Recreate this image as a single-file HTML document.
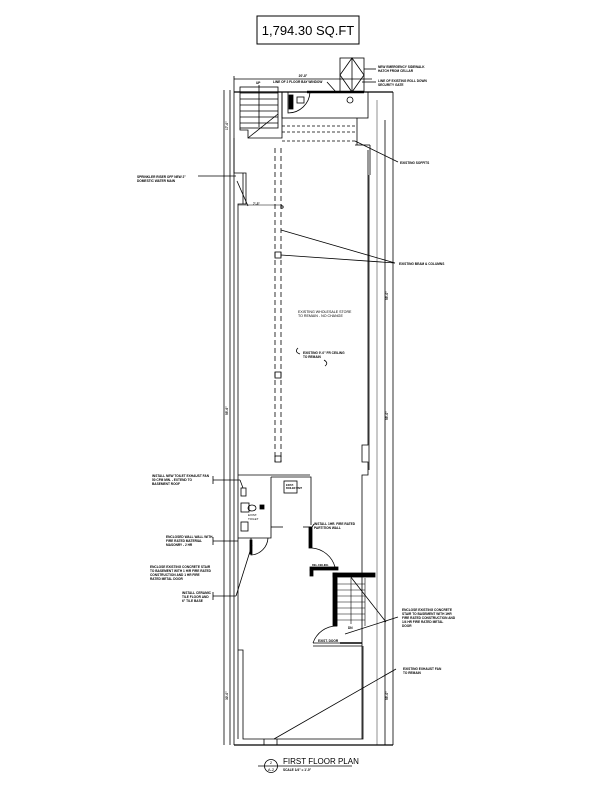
<!DOCTYPE html>
<html><head><meta charset="utf-8"><style>
html,body{margin:0;padding:0;background:#fff}
svg{display:block}
text{font-family:"Liberation Sans",sans-serif;fill:#000}
.s{font-size:3.2px;font-weight:bold}
</style></head><body>
<svg width="612" height="792" viewBox="0 0 612 792" xmlns="http://www.w3.org/2000/svg" fill="none" stroke="#000" stroke-width="0.8">
<!-- title -->
<rect x="257" y="16" width="102" height="28" stroke-width="1"/>
<text x="308" y="35" font-size="13" text-anchor="middle" stroke="none">1,794.30 SQ.FT</text>

<!-- top dimension -->
<line x1="234" y1="79" x2="372" y2="79"/>
<line x1="234" y1="76" x2="234" y2="92"/>
<text x="303" y="77" class="s" stroke="none" text-anchor="middle">20'-8"</text>
<!-- hatch box -->
<rect x="340" y="58" width="24" height="34"/>
<path d="M352 58 L364 75 L352 92 L340 75 Z"/>
<line x1="352" y1="58" x2="352" y2="92"/>
<line x1="364" y1="69" x2="376" y2="69"/>
<line x1="362" y1="82" x2="376" y2="82"/>
<text x="378" y="68" class="s" stroke="none">NEW EMERGENCY SIDEWALK</text>
<text x="378" y="72" class="s" stroke="none">HATCH FROM CELLAR</text>
<text x="378" y="82" class="s" stroke="none">LINE OF EXISTING ROLL DOWN</text>
<text x="378" y="86" class="s" stroke="none">SECURITY GATE</text>
<text x="273" y="83" class="s" stroke="none">LINE OF 2 FLOOR BAY WINDOW</text>
<line x1="327" y1="82" x2="336" y2="92"/>

<!-- outer dim lines left -->
<line x1="224" y1="90" x2="224" y2="745"/>
<line x1="230" y1="90" x2="230" y2="745"/>
<line x1="234" y1="92" x2="234" y2="745"/>
<!-- right -->
<line x1="369" y1="175" x2="369" y2="470" />
<line x1="377" y1="100" x2="377" y2="745" stroke="#777"/>
<line x1="385" y1="120" x2="385" y2="745"/>
<line x1="393" y1="92" x2="393" y2="745"/>
<!-- top wall -->
<line x1="234" y1="92" x2="393" y2="92" stroke-width="1.2"/>
<line x1="307" y1="92" x2="364" y2="92" stroke-width="2.5"/>
<rect x="282" y="92" width="86" height="26"/>
<circle cx="350" cy="100" r="3"/>
<path d="M288 92 L288 113 A22 22 0 0 0 310 92" />
<rect x="289" y="95" width="4" height="14" fill="#000"/>
<rect x="297" y="97" width="7" height="6"/>
<line x1="282" y1="126" x2="357" y2="126" stroke-dasharray="3,2"/>
<line x1="282" y1="132" x2="357" y2="132" stroke-dasharray="3,2"/>
<line x1="282" y1="141" x2="357" y2="141" stroke-dasharray="3,2"/>
<line x1="357" y1="118" x2="357" y2="145"/>
<line x1="355" y1="141" x2="398" y2="162"/>
<text x="400" y="164" class="s" stroke="none">EXISTING SOFFITS</text>
<line x1="370" y1="145" x2="370" y2="175"/>
<line x1="355" y1="145" x2="370" y2="145"/>

<!-- stair top-left -->
<rect x="240" y="87" width="38" height="41"/>
<line x1="240" y1="93" x2="278" y2="93"/><line x1="240" y1="99" x2="278" y2="99"/>
<line x1="240" y1="105" x2="278" y2="105"/><line x1="240" y1="111" x2="278" y2="111"/>
<line x1="240" y1="117" x2="278" y2="117"/><line x1="240" y1="123" x2="278" y2="123"/>
<line x1="259" y1="85" x2="259" y2="127"/>
<line x1="248" y1="138" x2="278" y2="114"/>
<path d="M240 128 L240 130 L248 130 L248 138 L282 138 L282 92"/>
<text x="256" y="84" class="s" stroke="none">UP</text>
<!-- left wall upper -->
<path d="M234 138 L234 173 L246 173 L246 204 L238 204 L238 739"/>
<line x1="243" y1="173" x2="243" y2="204"/>
<line x1="237" y1="181" x2="248" y2="206"/>
<line x1="198" y1="176" x2="236" y2="176"/>
<text x="137" y="178" class="s" stroke="none">SPRINKLER RISER OFF NEW 2"</text>
<text x="137" y="182" class="s" stroke="none">DOMESTIC WATER MAIN</text>
<line x1="238" y1="205" x2="282" y2="205" stroke-width="0.5"/>
<text x="253" y="205" class="s" stroke="none">7'-3"</text>
<!-- columns dashed -->
<line x1="275" y1="148" x2="275" y2="462" stroke-dasharray="5,3"/>
<line x1="281" y1="148" x2="281" y2="462" stroke-dasharray="5,3"/>
<rect x="275" y="252" width="6" height="6"/>
<rect x="275" y="372" width="6" height="6"/>
<rect x="275" y="456" width="6" height="6"/>
<circle cx="282" cy="207" r="1.2"/>
<line x1="281" y1="230" x2="395" y2="263"/>
<line x1="281" y1="255" x2="395" y2="263"/>
<text x="399" y="265" class="s" stroke="none">EXISTING BEAM &amp; COLUMNS</text>
<text x="298" y="313" font-size="3.6" stroke="none">EXISTING WHOLESALE STORE</text>
<text x="298" y="317" font-size="3.6" stroke="none">TO REMAIN - NO CHANGE</text>
<text x="303" y="354" class="s" stroke="none">EXISTING 9'-0" FR CEILING</text>
<text x="303" y="358" class="s" stroke="none">TO REMAIN</text>
<path d="M298 348 Q294 352 300 354" /><path d="M324 360 Q329 363 325 366"/>
<!-- right inner wall middle -->
<path d="M368 150 L368 445 L362 445 L362 462 L368 462 L368 475 L362 475 L362 739"/>
<!-- bathroom -->
<line x1="238" y1="475" x2="310" y2="475"/>
<path d="M271 477 L271 538 L238 538"/>
<path d="M271 477 L311 477 L311 525"/>
<rect x="284" y="481" width="13" height="12"/>
<text x="286" y="486" font-size="2.5" stroke="none" font-weight="bold">EXIST.</text>
<text x="286" y="489" font-size="2.5" stroke="none" font-weight="bold">BOILER UNIT</text>
<rect x="241" y="488" width="5" height="8"/>
<rect x="241" y="503" width="8" height="9"/>
<ellipse cx="252" cy="508" rx="4" ry="3"/>
<rect x="260" y="505" width="4" height="4" fill="#000"/>
<rect x="241" y="522" width="7" height="9"/>
<text x="248" y="516" font-size="3" stroke="none">EXIST.</text>
<text x="248" y="520" font-size="3" stroke="none">TOILET</text>
<line x1="271" y1="527" x2="283" y2="527"/>
<line x1="303" y1="527" x2="311" y2="527"/>
<rect x="309" y="527" width="3" height="21" fill="#000"/>
<path d="M312 548 A26 26 0 0 1 335 567"/>
<path d="M251 538 L251 555 A18 18 0 0 0 268 538"/>
<rect x="250" y="540" width="2" height="14" fill="#000"/>
<text x="314" y="525" class="s" stroke="none">INSTALL 1HR. FIRE RATED</text>
<text x="314" y="529" class="s" stroke="none">PARTITION WALL</text>
<line x1="312" y1="527" x2="314" y2="524"/>
<!-- left notes -->
<line x1="213" y1="480" x2="240" y2="480"/><line x1="213" y1="476" x2="213" y2="484"/>
<line x1="240" y1="480" x2="243" y2="488"/>
<text x="152" y="477" class="s" stroke="none">INSTALL NEW TOILET EXHAUST FAN</text>
<text x="152" y="481" class="s" stroke="none">50 CFM MIN. - EXTEND TO</text>
<text x="152" y="485" class="s" stroke="none">BASEMENT ROOF</text>
<line x1="213" y1="541" x2="238" y2="541"/><line x1="213" y1="537" x2="213" y2="545"/>
<text x="166" y="538" class="s" stroke="none">ENCLOSED WALL WALL WITH</text>
<text x="166" y="542" class="s" stroke="none">FIRE RATED MATERIAL</text>
<text x="166" y="546" class="s" stroke="none">MASONRY - 2 HR</text>
<text x="150" y="568" class="s" stroke="none">ENCLOSE EXISTING CONCRETE STAIR</text>
<text x="150" y="572" class="s" stroke="none">TO BASEMENT WITH 1 H/R FIRE RATED</text>
<text x="150" y="576" class="s" stroke="none">CONSTRUCTION AND 1 HR FIRE</text>
<text x="150" y="580" class="s" stroke="none">RATED METAL DOOR</text>
<line x1="213" y1="596" x2="236" y2="596"/><line x1="213" y1="592" x2="213" y2="600"/>
<line x1="236" y1="596" x2="252" y2="545"/>
<text x="182" y="594" class="s" stroke="none">INSTALL CERAMIC</text>
<text x="182" y="598" class="s" stroke="none">TILE FLOOR AND</text>
<text x="182" y="602" class="s" stroke="none">6" TILE BASE</text>
<!-- lower stair -->
<rect x="310" y="567" width="28" height="3" fill="#000"/>
<text x="312" y="566" font-size="2.6" stroke="none" font-weight="bold">REL.CEILING</text>
<rect x="310" y="570" width="3" height="6" fill="#000"/>
<rect x="333" y="573" width="42" height="4" fill="#000"/>
<rect x="333" y="573" width="4" height="53" fill="#000"/>
<g stroke-width="0.6">
<line x1="337" y1="584" x2="365" y2="584"/><line x1="337" y1="590" x2="365" y2="590"/>
<line x1="337" y1="596" x2="365" y2="596"/><line x1="337" y1="602" x2="365" y2="602"/>
<line x1="337" y1="608" x2="365" y2="608"/><line x1="337" y1="614" x2="365" y2="614"/>
<line x1="337" y1="620" x2="365" y2="620"/>
<line x1="337" y1="578" x2="337" y2="626"/><line x1="365" y1="578" x2="365" y2="626"/>
<line x1="351" y1="578" x2="351" y2="624"/>
</g>
<text x="348" y="629" class="s" stroke="none">DN</text>
<path d="M337 626 L337 626 A25 25 0 0 0 313 643"/>
<line x1="313" y1="643" x2="362" y2="643"/>
<line x1="313" y1="646" x2="362" y2="646"/>
<line x1="340" y1="643" x2="362" y2="643" stroke-width="1.5"/>
<text x="318" y="642" class="s" stroke="none">EXIST. DOOR</text>
<line x1="350" y1="576" x2="386" y2="622"/>
<line x1="345" y1="634" x2="398" y2="617"/>
<text x="402" y="611" class="s" stroke="none">ENCLOSE EXISTING CONCRETE</text>
<text x="402" y="615" class="s" stroke="none">STAIR TO BASEMENT WITH 1HR</text>
<text x="402" y="619" class="s" stroke="none">FIRE RATED CONSTRUCTION AND</text>
<text x="402" y="623" class="s" stroke="none">1/4 HR FIRE RATED METAL</text>
<text x="402" y="627" class="s" stroke="none">DOOR</text>
<!-- bottom area -->
<path d="M238 650 L243 650 L243 739 L363 739 L363 646"/>
<line x1="234" y1="745" x2="393" y2="745" stroke-width="1.2"/>
<line x1="264" y1="739" x2="264" y2="745"/><line x1="277" y1="739" x2="277" y2="745"/>
<line x1="274" y1="739" x2="396" y2="669"/>
<text x="403" y="670" class="s" stroke="none">EXISTING EXHAUST FAN</text>
<text x="403" y="674" class="s" stroke="none">TO REMAIN</text>
<!-- dim tick text -->
<text x="228" y="130" class="s" stroke="none" transform="rotate(-90 228 130)">17'-0"</text>
<text x="228" y="415" class="s" stroke="none" transform="rotate(-90 228 415)">55'-6"</text>
<text x="228" y="700" class="s" stroke="none" transform="rotate(-90 228 700)">30'-0"</text>
<text x="388" y="300" class="s" stroke="none" transform="rotate(-90 388 300)">55'-0"</text>
<text x="388" y="420" class="s" stroke="none" transform="rotate(-90 388 420)">55'-0"</text>
<text x="388" y="700" class="s" stroke="none" transform="rotate(-90 388 700)">55'-0"</text>
<!-- title bottom -->
<circle cx="271" cy="766" r="6.5"/>
<line x1="258" y1="766" x2="352" y2="766"/>
<text x="271" y="764" font-size="4" stroke="none" text-anchor="middle">2</text>
<text x="271" y="771" font-size="4" stroke="none" text-anchor="middle">A-2</text>
<text x="283" y="764" font-size="8" stroke="none">FIRST FLOOR PLAN</text>
<text x="283" y="771" class="s" stroke="none">SCALE 1/4" = 1'-0"</text>
</svg>
</body></html>
